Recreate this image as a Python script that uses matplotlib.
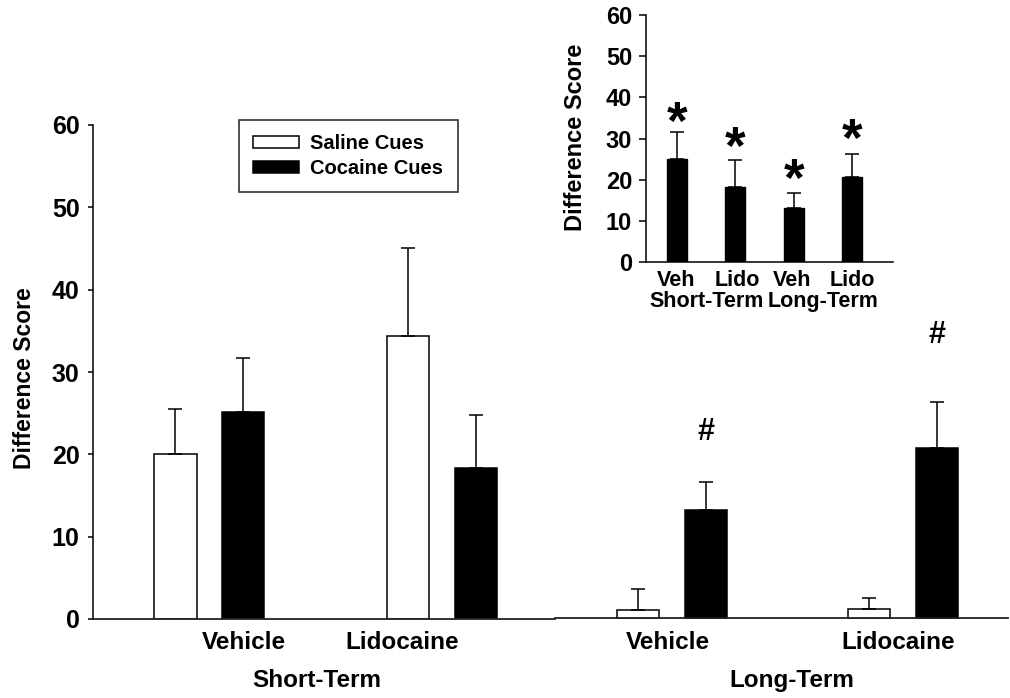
import numpy as np
import matplotlib
matplotlib.use("Agg")
from matplotlib import pyplot as plt
from matplotlib.transforms import blended_transform_factory

plt.rcParams['font.family'] = ['Liberation Sans', 'DejaVu Sans']
plt.rcParams['font.weight'] = 'bold'

# data
conditions = ['Vehicle', 'Lidocaine', 'Vehicle', 'Lidocaine']
phases = ['Short-Term', 'Long-Term']
saline_mean = [20.1, 34.4, 1.1, 1.2]
saline_err = [5.4, 10.7, 2.6, 1.4]
cocaine_mean = [25.1, 18.3, 13.2, 20.8]
cocaine_err = [6.6, 6.5, 3.4, 5.5]
hash_y = [22.7, 34.5]           # '#' markers over long-term cocaine bars

inset_labels = ['Veh', 'Lido', 'Veh', 'Lido']
inset_mean = [25.1, 18.3, 13.2, 20.8]
inset_err = [6.4, 6.4, 3.5, 5.4]
star_y = [33.3, 27.3, 19.6, 29.1]

W, H = 1010, 698
fig = plt.figure(figsize=(W / 100, H / 100), dpi=100)

# ---- main axes
ax = fig.add_axes([93 / W, (H - 619) / H, 915 / W, 494 / H])
x = np.array([0.504, 1.511, 2.505, 3.506])
off = 0.147
bw = 0.182
ekw = dict(elinewidth=1.1, capthick=1.1, ecolor='black')
ax.bar(x - off, saline_mean, bw, color='white', edgecolor='black', linewidth=1.1,
       yerr=[np.zeros(4), saline_err], capsize=5, error_kw=ekw, label='Saline Cues', zorder=3)
ax.bar(x + off, cocaine_mean, bw, color='black', edgecolor='black', linewidth=1.1,
       yerr=[np.zeros(4), cocaine_err], capsize=5, error_kw=ekw, label='Cocaine Cues', zorder=3)

for xi, yi in zip(x[2:] + off, hash_y):
    ax.text(xi, yi, '#', ha='center', va='center', fontsize=22, fontweight='bold')

ax.set_xlim(0, 3.96)
ax.set_ylim(0, 60)
ax.set_yticks(range(0, 61, 10))
ax.set_xticks([])
ax.tick_params(axis='y', direction='out', length=3.6, width=1.1, pad=6, labelsize=18)
for lab in ax.get_yticklabels():
    lab.set_fontweight('bold')
for s in ['top', 'right', 'bottom']:
    ax.spines[s].set_visible(False)
ax.spines['left'].set_linewidth(1.1)
# broken baseline like in the original
brk = (555 - 93) / 915
ax.axhline(0, xmin=0, xmax=brk, color='#222222', lw=1.3, zorder=4, clip_on=False)
ax.axhline(0.12, xmin=brk, xmax=1, color='#222222', lw=1.3, zorder=4, clip_on=False)

tr = blended_transform_factory(ax.transData, ax.transAxes)
for xp, lab in zip([0.654, 1.338, 2.49, 3.485], conditions):
    ax.text(xp, -0.0466, lab, transform=tr, ha='center', va='center', fontsize=17.5, fontweight='bold')
for xp, lab in zip([0.968, 3.026], phases):
    ax.text(xp, -0.1235, lab, transform=tr, ha='center', va='center', fontsize=17.5, fontweight='bold')

fig.text(25 / W, 1 - 378 / H, 'Difference Score', rotation=90, ha='center', va='center',
         fontsize=16.5, fontweight='bold')

leg = ax.legend(loc='upper left', bbox_to_anchor=(239 / W, 1 - 120 / H), bbox_transform=fig.transFigure,
                borderaxespad=0, fancybox=False, frameon=True, handlelength=2.3, handleheight=0.5,
                handletextpad=0.55, labelspacing=0.3, borderpad=0.7, prop=dict(size=14.5, weight='bold'))
leg.get_frame().set_edgecolor('black')
leg.get_frame().set_linewidth(1.2)

# ---- inset axes
ix = fig.add_axes([646 / W, (H - 262.3) / H, 247 / W, 247.3 / H])
ipos = np.arange(4)
ix.bar(ipos, inset_mean, 0.34, color='black', edgecolor='black', linewidth=1.0,
       yerr=[np.zeros(4), inset_err], capsize=5, error_kw=ekw, zorder=3)
for xi, yi in zip(ipos, star_y):
    ix.text(xi, yi, '*', ha='center', va='center', fontsize=38, fontweight='bold')
ix.set_xlim(-0.53, 3.7)
ix.set_ylim(0, 60)
ix.set_yticks(range(0, 61, 10))
ix.set_xticks([])
ix.tick_params(axis='y', direction='out', length=5, width=1.1, pad=5, labelsize=17)
for lab in ix.get_yticklabels():
    lab.set_fontweight('bold')
for s in ['top', 'right']:
    ix.spines[s].set_visible(False)
ix.spines['left'].set_linewidth(1.1)
ix.spines['bottom'].set_linewidth(1.1)
itr = blended_transform_factory(ix.transData, ix.transAxes)
for xp, lab in zip([-0.02, 1.03, 1.97, 3.0], inset_labels):
    ix.text(xp, -0.0716, lab, transform=itr, ha='center', va='center', fontsize=15.5, fontweight='bold')
for xp, lab in zip([0.5, 2.5], phases):
    ix.text(xp, -0.159, lab, transform=itr, ha='center', va='center', fontsize=15.5, fontweight='bold')
fig.text(575 / W, 1 - 137.5 / H, 'Difference Score', rotation=90, ha='center', va='center',
         fontsize=17, fontweight='bold')

fig.savefig('out.png', dpi=100)
